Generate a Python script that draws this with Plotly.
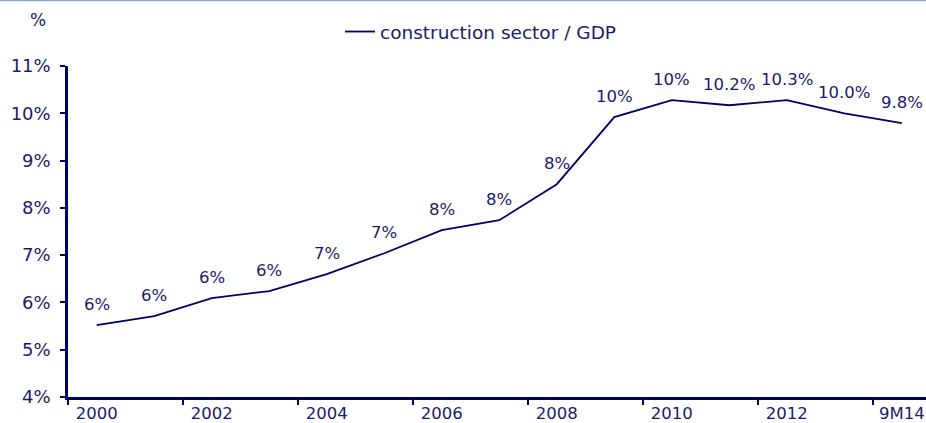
import plotly.graph_objects as go

categories = ["2000", "2001", "2002", "2003", "2004", "2005", "2006", "2007",
              "2008", "2009", "2010", "2011", "2012", "2013", "9M14"]
values = [5.52, 5.71, 6.09, 6.24, 6.60, 7.04, 7.53, 7.74, 8.50, 9.92,
          10.28, 10.17, 10.28, 10.00, 9.79]
value_labels = ["6%", "6%", "6%", "6%", "7%", "7%", "8%", "8%", "8%", "10%",
                "10%", "10.2%", "10.3%", "10.0%", "9.8%"]
shown_ticks = ["2000", "2002", "2004", "2006", "2008", "2010", "2012", "9M14"]
y_ticks = [4, 5, 6, 7, 8, 9, 10, 11]
y_tick_text = [f"{v}%" for v in y_ticks]
series_name = "construction sector / GDP"

NAVY = "#000066"
TXT = "#1b1b6b"
FONT = "DejaVu Sans"
W, H = 926, 423

xs = list(range(len(categories)))
tick_pos = [i for i, c in enumerate(categories) if c in shown_ticks]

fig = go.Figure()
fig.add_trace(go.Scatter(x=xs, y=values, mode="lines", name=series_name,
                         line=dict(color=NAVY, width=1.8)))

for x, v, t in zip(xs, values, value_labels):
    fig.add_annotation(x=x, y=v, text=t, showarrow=False, yshift=21,
                       font=dict(family=FONT, size=16.5, color=TXT))

fig.add_annotation(xref="paper", yref="paper", x=-0.035, y=1.0, yshift=46,
                   text="%", showarrow=False, xanchor="center", yanchor="middle",
                   font=dict(family=FONT, size=17, color=TXT))

fig.add_shape(type="line", xref="paper", yref="paper", x0=-0.1, x1=1.1,
              y0=1 + 65.5 / 331, y1=1 + 65.5 / 331,
              line=dict(color="#8fa2d4", width=1.5))

fig.update_layout(
    width=W, height=H,
    margin=dict(l=68, r=0, t=66, b=26, autoexpand=False),
    paper_bgcolor="white", plot_bgcolor="white",
    font=dict(family=FONT, size=17, color=TXT),
    showlegend=True,
    legend=dict(orientation="h", xref="container", yref="container",
                x=340 / W, y=1 - 32 / H, yanchor="middle", xanchor="left",
                font=dict(family=FONT, size=18.5, color=TXT),
                bgcolor="rgba(0,0,0,0)"),
    xaxis=dict(range=[-0.5, 14.42], tickvals=tick_pos,
               ticktext=[categories[i] for i in tick_pos],
               ticks="", showgrid=False, zeroline=False,
               showline=True, linecolor=NAVY, linewidth=2.5,
               ticklabelstandoff=-1, automargin=False,
               ticklabeloverflow="allow",
               tickfont=dict(family=FONT, size=16.5, color=TXT),
               minor=dict(ticks="outside", tick0=-0.5, dtick=2, ticklen=5,
                          tickwidth=2, tickcolor=NAVY, showgrid=False)),
    yaxis=dict(range=[4, 11], tickvals=y_ticks, ticktext=y_tick_text,
               ticks="outside", ticklen=5, tickwidth=2, tickcolor=NAVY,
               showgrid=False, zeroline=False,
               showline=True, linecolor=NAVY, linewidth=2.5,
               ticklabelstandoff=6, automargin=False,
               tickfont=dict(family=FONT, size=18, color=TXT)),
)

fig.write_html("out.html")
